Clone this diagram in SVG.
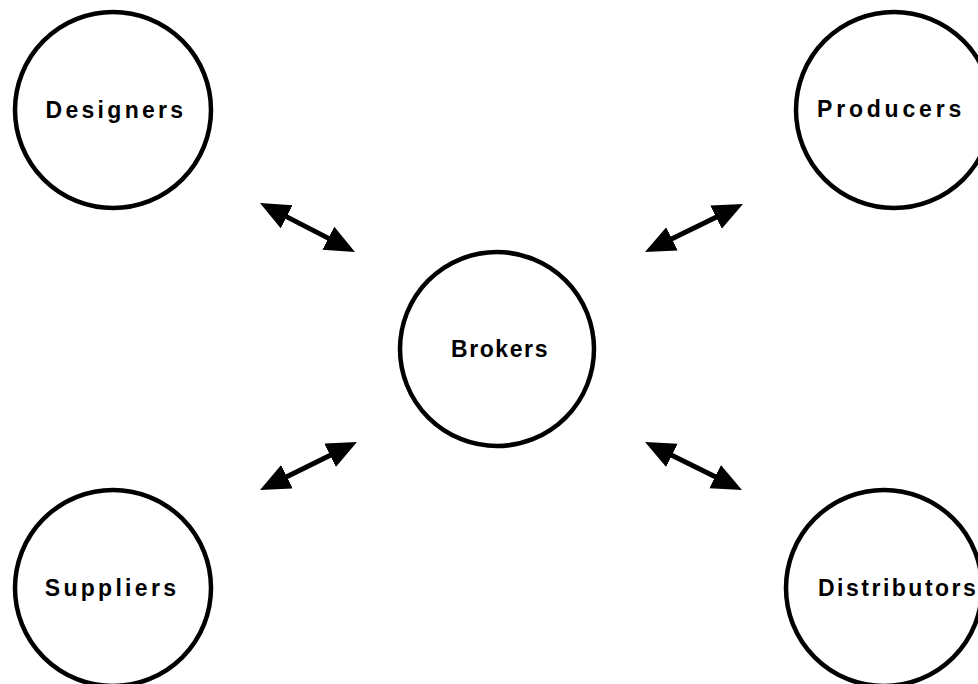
<svg xmlns="http://www.w3.org/2000/svg" width="978" height="684" viewBox="0 0 978 684">
<style>
.node circle { fill: #fff; stroke: #000; stroke-width: 4.5; }
.node text { font-family: "Liberation Sans", Arial, sans-serif; font-weight: bold; font-size: 23px; letter-spacing: 3.3px; fill: #000; }
.conn line { stroke: #000; stroke-width: 5; marker-start: url(#ah); marker-end: url(#ah); }
</style>
<defs>
<marker id="ah" markerUnits="userSpaceOnUse" markerWidth="32" markerHeight="28" refX="20" refY="13" orient="auto-start-reverse" viewBox="0 0 32 28">
<path d="M0,0 L30,13 L0,26 Z" fill="#000"/>
</marker>
</defs>
<rect width="978" height="684" fill="#fff"/>
<g id="designers" class="node"><circle cx="113" cy="110" r="98"/><text x="116" y="118" text-anchor="middle">Designers</text></g>
<g id="producers" class="node"><circle cx="894" cy="110" r="98"/><text x="891" y="117" text-anchor="middle" style="letter-spacing:3.8px">Producers</text></g>
<g id="brokers" class="node"><circle cx="497" cy="349" r="97"/><text x="500" y="357" text-anchor="middle" style="letter-spacing:1.6px">Brokers</text></g>
<g id="suppliers" class="node"><circle cx="113" cy="588" r="98"/><text x="112" y="596" text-anchor="middle">Suppliers</text></g>
<g id="distributors" class="node"><circle cx="884" cy="588" r="98"/><text x="818" y="596" style="letter-spacing:2.5px">Distributors</text></g>
<g id="connectors" class="conn">
<line x1="268.9" y1="207.6" x2="346.1" y2="247.4"/>
<line x1="734.0" y1="208.4" x2="654.0" y2="247.6"/>
<line x1="348.0" y1="446.4" x2="269.0" y2="485.6"/>
<line x1="654.0" y1="446.4" x2="733.0" y2="485.6"/>
</g>
</svg>
